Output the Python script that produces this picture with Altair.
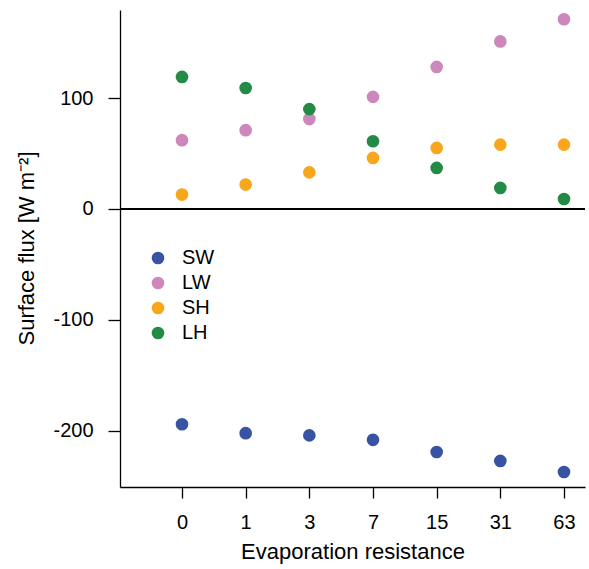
import altair as alt
import pandas as pd

resistance = ["0", "1", "3", "7", "15", "31", "63"]
series = ["SW", "LW", "SH", "LH"]
sw = [-194, -202, -204, -208, -219, -227, -237]
lw = [62, 71, 81, 101, 128, 151, 171]
sh = [13, 22, 33, 46, 55, 58, 58]
lh = [119, 109, 90, 61, 37, 19, 9]
colors = ["#3953a4", "#cc88bb", "#f9a61c", "#238b45"]

rows = []
for name, vals in zip(series, [sw, lw, sh, lh]):
    for i, v in enumerate(vals):
        rows.append({"idx": i, "res": resistance[i], "series": name, "flux": v})
df = pd.DataFrame(rows)

font = "Liberation Sans"
label_arr = "[" + ",".join("'%s'" % r for r in resistance) + "]"

points = alt.Chart(df).mark_point(filled=True, size=160, opacity=1).encode(
    x=alt.X("idx:Q",
            scale=alt.Scale(domain=[-0.974, 6.33], nice=False, zero=False),
            axis=alt.Axis(title="Evaporation resistance", values=list(range(7)),
                          labelExpr=label_arr + "[datum.value]",
                          grid=False, tickSize=11, labelPadding=14,
                          titlePadding=9)),
    y=alt.Y("flux:Q",
            scale=alt.Scale(domain=[-250.5, 179.3], nice=False, zero=False),
            axis=alt.Axis(title="Surface flux [W m⁻²]", values=[-200, -100, 0, 100],
                          labelExpr="replace(datum.label, '\u2212', '-')",
                          grid=False, tickSize=12, labelPadding=15,
                          titleX=-82, titleY=238)),
    color=alt.Color("series:N",
                    scale=alt.Scale(domain=series, range=colors),
                    legend=alt.Legend(title=None, orient="none", legendX=28, legendY=238,
                                      symbolSize=160, symbolType="circle",
                                      labelFontSize=20, labelFont=font, rowPadding=5,
                                      symbolStrokeWidth=0, labelOffset=14)),
)

zero = alt.Chart(df).mark_rule(color="black", strokeWidth=1.3).encode(y=alt.datum(0))

chart = alt.layer(zero, points).properties(
    width=465, height=477,
    autosize=alt.AutoSizeParams(type="none"),
    padding={"left": 120, "top": 10, "right": 4, "bottom": 82},
).configure_view(stroke=None).configure_axis(
    labelFont=font, titleFont=font, labelFontSize=20, titleFontSize=22,
    titleFontWeight="normal", labelColor="black", titleColor="black",
    domainColor="black", tickColor="black", domainWidth=1.3, tickWidth=1.3,
)

chart.save("out.html", embed_options={"renderer": "svg", "actions": False})
